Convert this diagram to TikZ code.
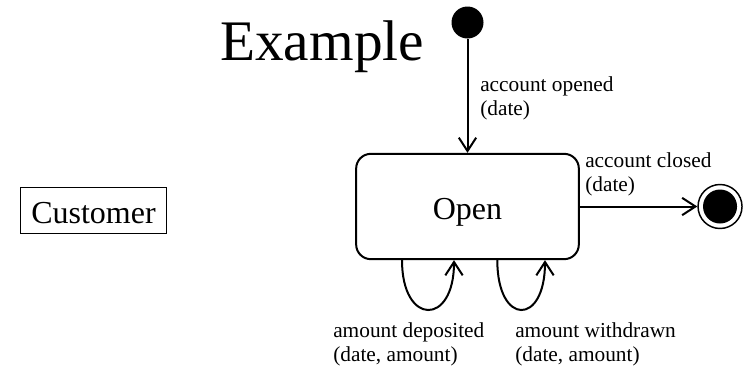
\documentclass[tikz,border=0pt]{standalone}
\usepackage{fontspec}
\setmainfont{Liberation Serif}
\usepackage{tikz}
\usetikzlibrary{calc}
\usetikzlibrary{shapes.geometric, arrows.meta}
\tikzstyle{state} = [rectangle, rounded corners=11pt, minimum width=167pt, minimum height=79pt, text centered, text height=20pt, text depth=0pt, draw=black, line width=1.5pt, font=\fontsize{24}{28}\selectfont]
\tikzstyle{classbox} = [rectangle, minimum width=110pt, minimum height=35pt, text centered, text height=18.8pt, text depth=0pt, draw=black, line width=0.8pt, font=\fontsize{24}{28}\selectfont]
\tikzstyle{initial} = [circle, fill=black, minimum size=24pt, inner sep=0pt]
\tikzstyle{final} = [circle, draw=black, line width=1.1pt, minimum size=33pt, inner sep=0pt, path picture={\fill[black] (path picture bounding box.center) circle (12.75pt);}]
\tikzstyle{event} = [align=left, inner sep=0pt, anchor=base west, font=\fontsize{16}{17.5}\selectfont]
\tikzstyle{arrow} = [line width=1.5pt,-{Straight Barb[length=10pt,width=13pt]}]

\begin{document}
\begin{tikzpicture}[x=0.75pt,y=-0.75pt,node distance=138pt]
\useasboundingbox (0,0) rectangle (751,369);
\node(title)[anchor=base west, inner sep=0pt, font=\fontsize{43}{50}\selectfont] at (220,60) {Example};
\node(init)[initial] at (467.5,22.5) {};
\node(open)[state,below of=init]{Open};
\node(final)[final,right of=open,xshift=51.4pt]{};
\node(cust)[classbox,left of=open,xshift=-142.5pt,yshift=-3pt]{Customer};

\node(lopened)[event] at (480,115) {account opened\\(date)};
\node(lclosed)[event] at (585,191) {account closed\\(date)};
\node(ldep)[event] at (333,361) {amount deposited\\(date, amount)};
\node(lwith)[event] at (515,361) {amount withdrawn\\(date, amount)};

\draw[arrow] (init) -- (open);
\draw[arrow] (open) -- (final);
\draw[arrow] ($(open.south)+(-65.5,0)$) .. controls +(0,66) and +(0,66) .. ($(open.south)+(-13.5,0)$);
\draw[arrow] ($(open.south)+(29.8,0)$) .. controls +(0,66) and +(0,66) .. ($(open.south)+(77.5,0)$);

\end{tikzpicture}
\end{document}
